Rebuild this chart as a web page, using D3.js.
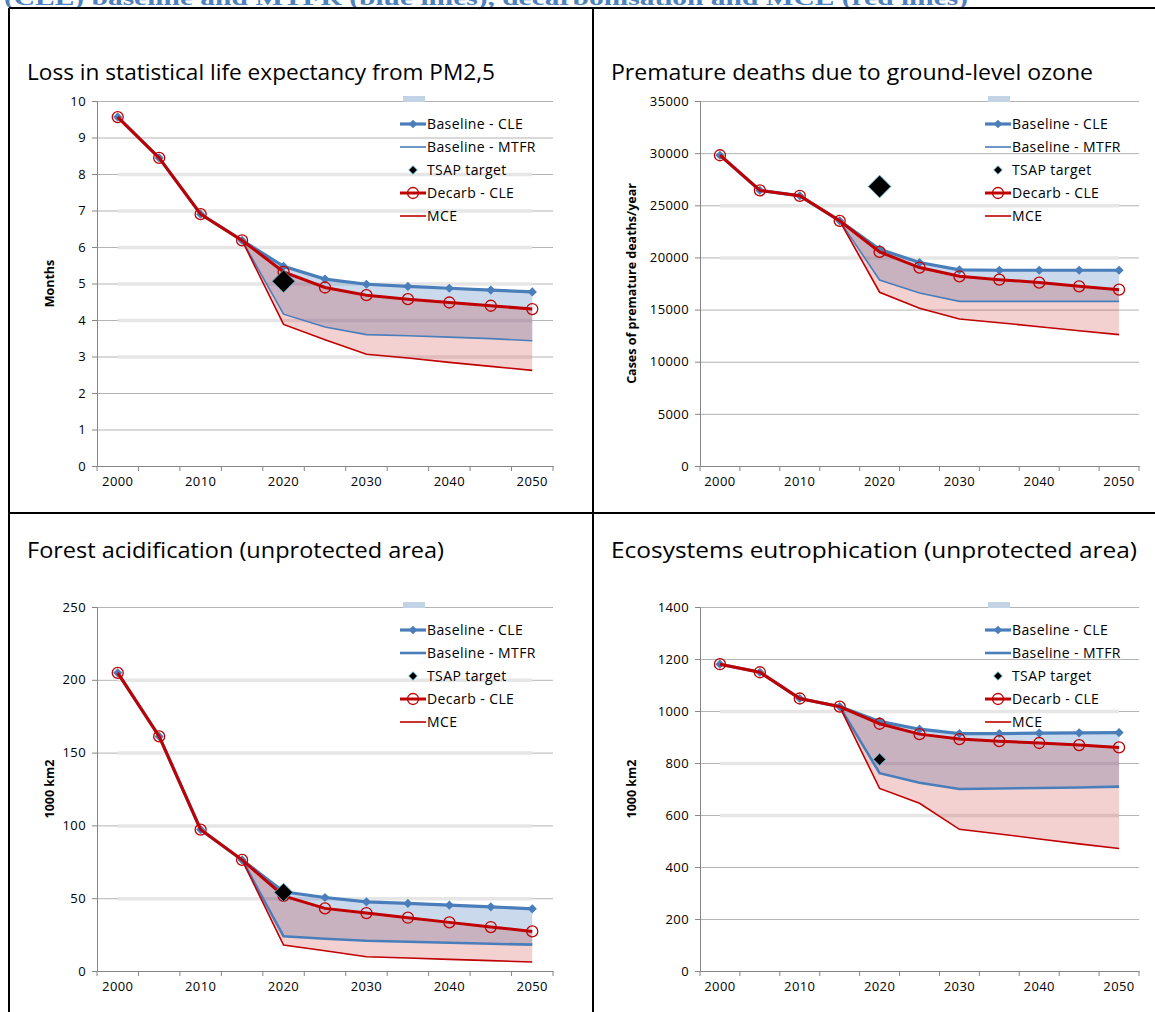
<!DOCTYPE html>
<html><head><meta charset="utf-8">
<script src="https://cdn.jsdelivr.net/npm/d3@7"></script>
<style>body{margin:0;background:#fff}svg{display:block}</style>
</head><body>
<svg id="c" width="1155" height="1012"></svg>
<script>
// ---------- DATA ----------
const years = ["2000","2005","2010","2015","2020","2025","2030","2035","2040","2045","2050"];
const xTickLabels = ["2000","2010","2020","2030","2040","2050"];
const legendNames = ["Baseline - CLE","Baseline - MTFR","TSAP target","Decarb - CLE","MCE"];
const heading = "(CLE) baseline and MTFR (blue lines), decarbonisation and MCE (red lines)";

// Loss in statistical life expectancy from PM2,5 (months)
const pmTitle = "Loss in statistical life expectancy from PM2,5";
const pmYLabel = "Months";
const pmYTicks = [0,1,2,3,4,5,6,7,8,9,10];
const pmBandTicks = [3,4,5,6,7,8];
const pmBaselineCLE = [9.56,8.44,6.90,6.18,5.47,5.12,4.98,4.92,4.87,4.82,4.77];
const pmBaselineMTFR = [null,null,null,6.18,4.16,3.81,3.60,3.57,3.53,3.49,3.43];
const pmDecarbCLE = [9.56,8.44,6.90,6.18,5.32,4.89,4.68,4.57,4.48,4.39,4.30];
const pmMCE = [null,null,null,6.18,3.88,3.46,3.06,2.96,2.84,2.73,2.62];
const pmTSAP = [null,null,null,null,5.06,null,null,null,null,null,null];

// Premature deaths due to ground-level ozone
const o3Title = "Premature deaths due to ground-level ozone";
const o3YLabel = "Cases of premature deaths/year";
const o3YTicks = [0,5000,10000,15000,20000,25000,30000,35000];
const o3BandTicks = [20000,25000];
const o3BaselineCLE = [29800,26430,25910,23510,20790,19510,18800,18770,18770,18770,18770];
const o3BaselineMTFR = [null,null,null,23510,17840,16590,15790,15790,15790,15790,15790];
const o3DecarbCLE = [29800,26430,25910,23510,20530,19030,18190,17870,17590,17230,16910];
const o3MCE = [null,null,null,23510,16660,15120,14090,13740,13360,12970,12600];
const o3TSAP = [null,null,null,null,26800,null,null,null,null,null,null];

// Forest acidification (unprotected area)
const acTitle = "Forest acidification (unprotected area)";
const acYLabel = "1000 km2";
const acYTicks = [0,50,100,150,200,250];
const acBandTicks = [50,100,150,200];
const acBaselineCLE = [204.8,161.1,97.1,76.3,54.4,50.5,47.5,46.4,45.2,44.1,42.7];
const acBaselineMTFR = [null,null,null,76.3,23.8,22.2,20.8,20.1,19.4,18.7,18.1];
const acDecarbCLE = [204.8,161.1,97.1,76.3,51.6,43.0,39.8,36.6,33.4,30.2,27.2];
const acMCE = [null,null,null,76.3,17.8,13.9,9.8,8.9,8.0,7.1,6.2];
const acTSAP = [null,null,null,null,54,null,null,null,null,null,null];

// Ecosystems eutrophication (unprotected area)
const euTitle = "Ecosystems eutrophication (unprotected area)";
const euYLabel = "1000 km2";
const euYTicks = [0,200,400,600,800,1000,1200,1400];
const euBandTicks = [600,800,1000];
const euBaselineCLE = [1180,1149,1048,1017,960,930,913,913,915,916,917];
const euBaselineMTFR = [null,null,null,1017,761,724,700,702,704,706,709];
const euDecarbCLE = [1180,1149,1048,1017,951,911,892,884,877,869,860];
const euMCE = [null,null,null,1017,702,645,545,527,508,489,471];
const euTSAP = [null,null,null,null,814,null,null,null,null,null,null];

// ---------- LAYOUT ----------
const panels = [
  {title:pmTitle, yLabel:pmYLabel, ticks:pmYTicks, bands:pmBandTicks, cle:pmBaselineCLE, mtfr:pmBaselineMTFR, dec:pmDecarbCLE, mce:pmMCE, tsap:pmTSAP,
   x0:97, x1:553, yTop:101, yBot:466, tX:27, tY:80, tW:468, yLabX:50, legX:400, legY:124, mtfrW:1.6, tsapS:16},
  {title:o3Title, yLabel:o3YLabel, ticks:o3YTicks, bands:o3BandTicks, cle:o3BaselineCLE, mtfr:o3BaselineMTFR, dec:o3DecarbCLE, mce:o3MCE, tsap:o3TSAP,
   x0:700, x1:1139, yTop:101, yBot:466, tX:611, tY:80, tW:482, yLabX:632, legX:985, legY:124, mtfrW:1.6, tsapS:16},
  {title:acTitle, yLabel:acYLabel, ticks:acYTicks, bands:acBandTicks, cle:acBaselineCLE, mtfr:acBaselineMTFR, dec:acDecarbCLE, mce:acMCE, tsap:acTSAP,
   x0:97, x1:553, yTop:607, yBot:971, tX:27, tY:558, tW:417, yLabX:50, legX:400, legY:630, mtfrW:2.6, tsapS:13},
  {title:euTitle, yLabel:euYLabel, ticks:euYTicks, bands:euBandTicks, cle:euBaselineCLE, mtfr:euBaselineMTFR, dec:euDecarbCLE, mce:euMCE, tsap:euTSAP,
   x0:700, x1:1139, yTop:607, yBot:971, tX:611, tY:558, tW:526, yLabX:632, legX:985, legY:630, mtfrW:2.6, tsapS:8.5}
];

const BLUE = "#4a7ebb", RED = "#c00000";
const FONT = "'Open Sans', Lato, 'Liberation Sans', sans-serif";
const svg = d3.select("#c");
svg.append("rect").attr("width",1155).attr("height",1012).attr("fill","#fff");

// heading (cut at top, as in the source)
svg.append("text").attr("x",4).attr("y",5).text(heading)
  .attr("font-family","'Liberation Serif','DejaVu Serif',serif").attr("font-weight","bold")
  .attr("font-size",22).attr("fill","#4f81bd")
  .attr("textLength",964).attr("lengthAdjust","spacingAndGlyphs");

// table borders
const tb = svg.append("g").attr("stroke","#000").attr("stroke-width",2);
tb.append("line").attr("x1",9).attr("x2",1155).attr("y1",8).attr("y2",8);
tb.append("line").attr("x1",9).attr("x2",9).attr("y1",8).attr("y2",1012);
tb.append("line").attr("x1",593).attr("x2",593).attr("y1",8).attr("y2",1012);
tb.append("line").attr("x1",9).attr("x2",1155).attr("y1",513).attr("y2",513);

// square diamond of given side, rotated 45°
const dia = side => d3.symbol().type(d3.symbolSquare).size(side*side)();

panels.forEach(p => {
  const g = svg.append("g");
  const x = d3.scaleBand().domain(years).range([p.x0, p.x1]);
  const cx = d => x(d) + x.bandwidth()/2;
  const y = d3.scaleLinear().domain([d3.min(p.ticks), d3.max(p.ticks)]).range([p.yBot, p.yTop]);

  // title
  g.append("text").attr("x",p.tX).attr("y",p.tY).text(p.title)
    .attr("font-family",FONT).attr("font-size",21).attr("fill","#000")
    .attr("textLength",p.tW).attr("lengthAdjust","spacingAndGlyphs");

  // gridlines
  g.append("g").selectAll("line").data(p.ticks.filter(t => t > 0)).join("line")
    .attr("x1",p.x0).attr("x2",p.x1).attr("y1",d=>y(d)+0.5).attr("y2",d=>y(d)+0.5)
    .attr("stroke","#b3b3b3").attr("stroke-width",1);
  g.append("g").selectAll("line").data(p.bands).join("line")
    .attr("x1",cx(years[0])).attr("x2",cx(years[years.length-1]))
    .attr("y1",d=>y(d)+0.5).attr("y2",d=>y(d)+0.5)
    .attr("stroke","#e6e6e6").attr("stroke-width",3.5);

  // y axis
  const ya = g.append("g").attr("transform",`translate(${p.x0},0)`)
    .call(d3.axisLeft(y).tickValues(p.ticks).tickSize(5).tickPadding(6).tickFormat(d3.format("d")));
  ya.select(".domain").attr("stroke","#868686");
  ya.selectAll(".tick line").attr("stroke","#868686");
  ya.selectAll(".tick text").attr("font-family",FONT).attr("font-size",13).attr("letter-spacing",0.4).attr("fill","#000");

  // x axis
  const xa = g.append("g").attr("transform",`translate(0,${p.yBot})`)
    .call(d3.axisBottom(x).tickSize(0).tickPadding(11).tickFormat(d => xTickLabels.includes(d) ? d : ""));
  xa.select(".domain").attr("stroke","#868686");
  xa.selectAll(".tick text").attr("font-family",FONT).attr("font-size",13).attr("letter-spacing",0.4).attr("fill","#000");
  const bounds = years.map(d => x(d)).concat([p.x1]);
  xa.append("g").selectAll("line").data(bounds).join("line")
    .attr("x1",d=>d).attr("x2",d=>d).attr("y1",0).attr("y2",5).attr("stroke","#868686");

  // y label
  g.append("text").attr("transform",`translate(${p.yLabX+4},${(p.yTop+p.yBot)/2}) rotate(-90)`)
    .attr("text-anchor","middle").text(p.yLabel)
    .attr("font-family",FONT).attr("font-weight","bold").attr("font-size",12.5).attr("fill","#000");

  // areas
  const idx = d3.range(years.length);
  const blueArea = d3.area().defined(i => p.mtfr[i] != null)
    .x(i => cx(years[i])).y0(i => y(p.mtfr[i])).y1(i => y(p.cle[i]));
  const redArea = d3.area().defined(i => p.mce[i] != null)
    .x(i => cx(years[i])).y0(i => y(p.mce[i])).y1(i => y(p.dec[i]));
  g.append("path").attr("d",blueArea(idx)).attr("fill","rgba(79,129,189,0.30)");
  g.append("path").attr("d",redArea(idx)).attr("fill","rgba(192,0,0,0.18)");

  const line = arr => d3.line().defined(i => arr[i] != null).x(i => cx(years[i])).y(i => y(arr[i]))(idx);

  g.append("path").attr("d",line(p.mtfr)).attr("fill","none").attr("stroke",BLUE).attr("stroke-width",p.mtfrW);
  g.append("path").attr("d",line(p.mce)).attr("fill","none").attr("stroke",RED).attr("stroke-width",1.6);
  g.append("path").attr("d",line(p.cle)).attr("fill","none").attr("stroke",BLUE).attr("stroke-width",3.2);
  g.append("g").selectAll("path").data(idx).join("path")
    .attr("d",dia(6.5)).attr("transform",i=>`translate(${cx(years[i])},${y(p.cle[i])}) rotate(45)`)
    .attr("fill",BLUE);
  g.append("path").attr("d",line(p.dec)).attr("fill","none").attr("stroke",RED).attr("stroke-width",3);
  g.append("g").selectAll("circle").data(idx).join("circle")
    .attr("cx",i=>cx(years[i])).attr("cy",i=>y(p.dec[i])).attr("r",5.5)
    .attr("fill","none").attr("stroke",RED).attr("stroke-width",1.3);

  // TSAP
  g.append("g").selectAll("path").data(idx.filter(i => p.tsap[i] != null)).join("path")
    .attr("d",dia(p.tsapS))
    .attr("transform",i=>`translate(${cx(years[i])},${y(p.tsap[i])}) rotate(45)`)
    .attr("fill","#000").attr("stroke","#4bacc6").attr("stroke-width",0.8);

  // legend
  const lg = g.append("g").attr("transform",`translate(${p.legX},${p.legY})`);
  lg.append("rect").attr("x",3).attr("y",-28).attr("width",22).attr("height",6).attr("fill","#c3d3e6");
  const rowH = 23;
  legendNames.forEach((name,k) => {
    const r = lg.append("g").attr("transform",`translate(0,${k*rowH})`);
    if (k===0) {
      r.append("line").attr("x1",0).attr("x2",26).attr("stroke",BLUE).attr("stroke-width",3.2);
      r.append("path").attr("d",dia(6)).attr("transform","translate(13,0) rotate(45)").attr("fill",BLUE);
    } else if (k===1) {
      r.append("line").attr("x1",0).attr("x2",26).attr("stroke",BLUE).attr("stroke-width",p.mtfrW);
    } else if (k===2) {
      r.append("path").attr("d",dia(6)).attr("transform","translate(13,0) rotate(45)")
        .attr("fill","#000").attr("stroke","#4bacc6").attr("stroke-width",0.8);
    } else if (k===3) {
      r.append("line").attr("x1",0).attr("x2",26).attr("stroke",RED).attr("stroke-width",3);
      r.append("circle").attr("cx",13).attr("cy",0).attr("r",5.5).attr("fill","none").attr("stroke",RED).attr("stroke-width",1.3);
    } else {
      r.append("line").attr("x1",0).attr("x2",26).attr("stroke",RED).attr("stroke-width",1.6);
    }
    r.append("text").attr("x",27).attr("y",5).text(name)
      .attr("font-family",FONT).attr("font-size",14).attr("letter-spacing",0.4).attr("fill","#000");
  });
});
</script>
</body></html>
